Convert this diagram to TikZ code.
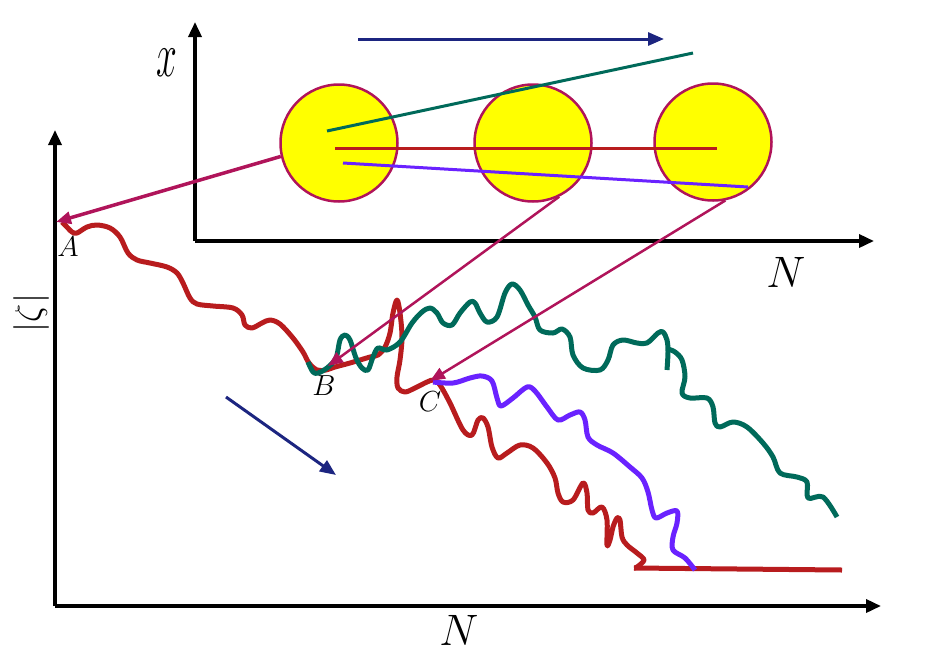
\RequirePackage{fix-cm}
\documentclass[tikz,border=0pt]{standalone}
\usetikzlibrary{arrows.meta}
\definecolor{cmaroon}{RGB}{176,20,90}
\definecolor{cred}{RGB}{184,28,30}
\definecolor{cgreen}{RGB}{0,106,90}
\definecolor{cpurple}{RGB}{106,34,255}
\definecolor{cnavy}{RGB}{28,37,128}
\definecolor{cyellow}{RGB}{255,255,0}
\begin{document}
\begin{tikzpicture}[x=1pt,y=-1pt,
  axisline/.style={line width=3.5pt,-{Triangle[length=15pt,width=13pt]}},
  ball/.style={circle,draw=cmaroon,fill=cyellow,line width=2.5pt,minimum size=117pt,inner sep=0pt},
  curve/.style={line width=5pt,line join=round},
  thin line/.style={line width=3pt},
  link/.style={draw=cmaroon,line width=2.5pt,-{Triangle[length=15pt,width=12pt]}},
  navyarrow/.style={draw=cnavy,line width=3pt,-{Triangle[length=16pt,width=13pt]}},
  biglabel/.style={font=\fontsize{44}{50}\selectfont,inner sep=0pt},
  ptlabel/.style={font=\fontsize{29}{34}\selectfont,inner sep=0pt}]
\useasboundingbox (0,0) rectangle (926,654);
% main axes
\coordinate (O) at (55,606);
\coordinate (Ytip) at (55,130);
\coordinate (Xtip) at (881,606);
\draw[axisline] (O) -- (Ytip);
\draw[axisline] (O) -- (Xtip);
% inset axes
\coordinate (o) at (195,241);
\coordinate (ytip) at (195,22);
\coordinate (xtip) at (874,241);
\draw[axisline] (o) -- (ytip);
\draw[axisline] (o) -- (xtip);
% labels
\node[biglabel] (lN) at (459,630) {$N$};
\node[biglabel] (lN2) at (786,272) {$N$};
\node[biglabel] (lx) at (167,63) {\scalebox{0.85}[1.45]{$x$}};
\node[font=\fontsize{36}{40}\selectfont,inner sep=0pt,rotate=90] (lz) at (31,313) {$|\zeta|$};
\node[ptlabel] (lA) at (68,247) {$A$};
\node[ptlabel] (lB) at (324,386) {$B$};
\node[ptlabel] (lC) at (430,402) {$C$};
% circles
\node[ball] (c1) at (339,143) {};
\node[ball] (c2) at (533,143) {};
\node[ball] (c3) at (713,142) {};
% inset lines
\coordinate (g1) at (327,131); \coordinate (g2) at (693,53);
\coordinate (r1) at (335,148); \coordinate (r2) at (717,148);
\coordinate (p1) at (343,163); \coordinate (p2) at (748,187);
\draw[thin line,cgreen] (g1) -- (g2);
\draw[thin line,cred] (r1) -- (r2);
\draw[thin line,cpurple] (p1) -- (p2);
% navy arrows
\coordinate (n1) at (358,39); \coordinate (n2) at (664,39);
\draw[navyarrow] (n1) -- (n2);
\coordinate (m1) at (226,397); \coordinate (m2) at (336,475);
\draw[navyarrow] (m1) -- (m2);
% red curve
\draw[curve,cred] plot[smooth,tension=0.55] coordinates {
 (62,222) (66,226) (72,232) (77,233) (87,227) (97,225) (110,228) (120,237) (128,253)
 (137,260) (150,263) (167,267) (177,273) (183,283) (190,298) (197,304) (213,306)
 (233,308) (242,315) (245,325) (252,328) (262,323) (270,320) (280,324) (293,338)
 (303,352) (309,363) (317,370) (326,370) (335,367) (350,363) (370,357) (378,355) (385,347)
 (390,333) (393,313) (397,300) (400,313) (402,337) (400,360) (397,377) (398,388)
 (405,392) (415,388) (427,382) (434,380) (440,385) (450,403) (463,430) (472,435)
 (478,420) (483,418) (488,427) (492,447) (498,458) (507,453) (520,445) (533,448)
 (547,463) (555,478) (558,493) (563,502) (573,500) (583,483) (587,493) (588,510)
 (593,513) (602,507) (607,520) (607,545) (610,540) (613,527) (617,518) (620,520)
 (622,537) (627,545) (637,553) (644,560) (637,567) (634,568)};
\coordinate (f1) at (634,568); \coordinate (f2) at (842,570);
\draw[curve,cred] (f1) -- (f2);
% purple curve
\draw[curve,cpurple] plot[smooth,tension=0.55] coordinates {
 (433,382) (453,383) (470,378) (482,376) (492,381) (497,398) (501,406) (513,398)
 (527,387) (535,391) (547,407) (558,420) (570,415) (580,412) (585,420) (588,437)
 (597,445) (613,453) (630,467) (642,478) (648,492) (652,510) (656,518) (667,513)
 (677,511) (677,523) (673,537) (673,550) (685,558) (695,570)};
% green curve
\draw[curve,cgreen] plot[smooth,tension=0.55] coordinates {
 (308,362) (313,372) (318,373) (327,368) (336,358) (340,340) (345,335) (350,340)
 (356,358) (362,368) (368,370) (373,357) (378,348) (387,350) (400,342) (412,323)
 (422,312) (430,308) (437,313) (443,323) (452,325) (460,313) (470,302) (475,303)
 (480,313) (487,322) (497,317) (505,293) (512,284) (520,290) (528,305) (535,317)
 (540,330) (553,333) (562,329) (570,337) (573,355) (583,368) (600,370) (608,360)
 (613,345) (623,340) (637,343) (647,343) (658,333) (663,332) (667,340) (668,352) (667,370)};
\draw[curve,cgreen] plot[smooth,tension=0.55] coordinates {
 (668,349) (675,352) (682,360) (685,377) (682,393) (690,398) (707,398) (713,407)
 (715,423) (720,427) (733,422) (747,427) (763,443) (773,457) (780,473) (797,477)
 (807,482) (808,498) (823,497) (837,517)};
% maroon links
\coordinate (A) at (56,222);
\coordinate (B) at (328,366);
\coordinate (C) at (430,381);
\draw[link,line width=3.5pt] (c1.193) -- (A);
\draw[link] (c2.296) -- (B);
\draw[link] (c3.282) -- (C);
\end{tikzpicture}
\end{document}
